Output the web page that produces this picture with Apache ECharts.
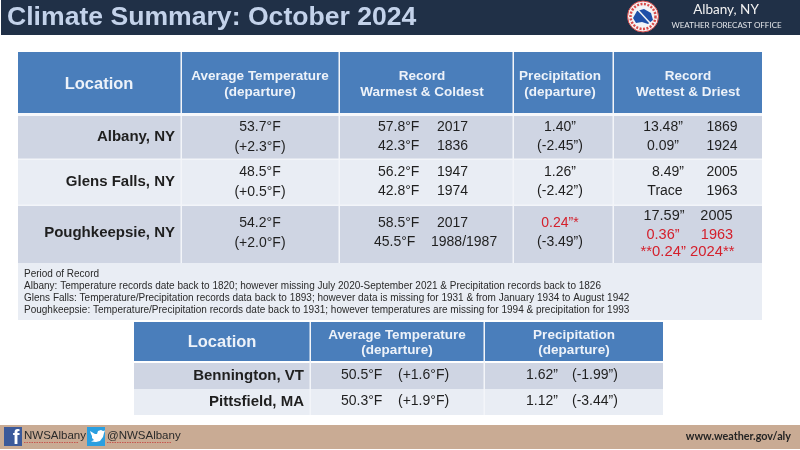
<!DOCTYPE html>
<html><head><meta charset="utf-8">
<style>html,body{margin:0;padding:0;background:#fff}#c{width:800px;height:450px}</style>
<script src="https://cdn.jsdelivr.net/npm/echarts@6/dist/echarts.min.js"></script></head>
<body><div id="c"></div>
<script>
const titleText = 'Climate Summary: October 2024';
const officeName = 'Albany, NY';
const officeSub = 'WEATHER FORECAST OFFICE';
const mainHeaders = ['Location','Average Temperature\n(departure)','Record\nWarmest & Coldest','Precipitation\n(departure)','Record\nWettest & Driest'];
const locations = ['Albany, NY','Glens Falls, NY','Poughkeepsie, NY'];
const avgTemps = ['53.7°F\n(+2.3°F)','48.5°F\n(+0.5°F)','54.2°F\n(+2.0°F)'];
const warmest = [['57.8°F','2017'],['56.2°F','1947'],['58.5°F','2017']];
const coldest = [['42.3°F','1836'],['42.8°F','1974'],['45.5°F','1988/1987']];
const precips = [['1.40”','(-2.45”)'],['1.26”','(-2.42”)'],['0.24”*','(-3.49”)']];
const wettest = [['13.48”','1869'],['8.49”','2005'],['17.59”','2005']];
const driest = [['0.09”','1924'],['Trace','1963'],['0.36”','1963']];
const recordNote = '**0.24” 2024**';
const notes = ['Period of Record',
 'Albany: Temperature records date back to 1820; however missing July 2020-September 2021 & Precipitation records back to 1826',
 'Glens Falls: Temperature/Precipitation records data back to 1893; however data is missing for 1931 & from January 1934 to August 1942',
 'Poughkeepsie: Temperature/Precipitation records date back to 1931; however temperatures are missing for 1994 & precipitation for 1993'];
const subHeaders = ['Location','Average Temperature\n(departure)','Precipitation\n(departure)'];
const subLocations = ['Bennington, VT','Pittsfield, MA'];
const subTemps = [['50.5°F','(+1.6°F)'],['50.3°F','(+1.9°F)']];
const subPrecips = [['1.62”','(-1.99”)'],['1.12”','(-3.44”)']];
const footerLeft = ['NWSAlbany','@NWSAlbany'];
const footerRight = 'www.weather.gov/aly';

const F='"Liberation Sans",Arial,sans-serif', INK='#1f1f1f', RED='#d4202c';
const HEAD='#4a7ebb', DARK='#203047', BAND='#cfd5e3', LIGHT='#e9edf4', RULE='#f3f5f9', HTXT='#edf2f9';
const g=[];
const rect=(x,y,w,h,fill)=>g.push({type:'rect',silent:true,shape:{x,y,width:w,height:h},style:{fill}});
const text=(x,y,t,o={})=>g.push({type:'text',silent:true,x,y,style:Object.assign({text:t,fill:INK,font:`${o.bold?'bold ':''}${o.size||14}px ${o.family||F}`,textAlign:o.align||'center',textVerticalAlign:'middle',lineHeight:o.lh||17},o.extra||{})});

// banner
rect(0,0,800,35,DARK); rect(0,0,1,35,'#fff');
text(7,18,titleText,{bold:true,size:26.6,align:'left',extra:{fill:'#c3d2ea'}});
g.push({type:'circle',silent:true,shape:{cx:643,cy:16.5,r:15.5},style:{fill:'#f6f2f2',stroke:'#d84a4a',lineWidth:1}});
g.push({type:'circle',silent:true,shape:{cx:643,cy:16.5,r:12.5},style:{fill:'none',stroke:'#d84a4a',lineWidth:2.5,lineDash:[2,1.5]}});
g.push({type:'circle',silent:true,shape:{cx:643,cy:16.5,r:10.5},style:{fill:'#f2f4f8'}});
g.push({type:'polygon',silent:true,shape:{points:[[633,18],[637,11],[644,9],[651,13],[653,20],[648,24],[642,22],[636,23]]},style:{fill:'#1f4fa8'}});
g.push({type:'line',silent:true,shape:{x1:638,y1:10,x2:650,y2:23},style:{stroke:'#f4f4f4',lineWidth:1.5}});
text(726,10,officeName,{size:13.5,family:'Lato,sans-serif',extra:{fill:'#f2f2f2'}});
text(726.5,25,officeSub,{size:8,family:'Lato,sans-serif',extra:{fill:'#e4e6ea'}});

// main table
const Yr=[116,159,205,263];
const headC=[99,260,422,560,688];
rect(18,52,744,61,HEAD);
mainHeaders.forEach((h,i)=>text(headC[i],84,h,{bold:true,size:i==0?16.5:13.5,lh:16,extra:{fill:HTXT}}));
locations.forEach((l,r)=>rect(18,Yr[r],744,Yr[r+1]-Yr[r],r==1?LIGHT:BAND));
rect(18,263,744,57,LIGHT);
[181,339,513,613].forEach(x=>rect(x-0.5,52,1.5,211,RULE));
rect(18,113,744,3,'#f7f8fb');
[159,205].forEach(y=>rect(18,y-0.5,744,1.5,RULE));
const rowC=[137,182,233];
const S=14;
locations.forEach((l,r)=>{
  const c=rowC[r];
  text(175,c,l,{bold:true,size:15,align:'right'});
  text(260,c,avgTemps[r],{size:S,lh:19.5});
  text(378,c-9.5,warmest[r][0],{size:S,align:'left'});
  text(437,c-9.5,warmest[r][1],{size:S,align:'left'});
  text(r==2?374:378,c+9.5,coldest[r][0],{size:S,align:'left'});
  text(r==2?431:437,c+9.5,coldest[r][1],{size:S,align:'left'});
  text(560,c-9.5,precips[r][0],{size:S,extra:{fill:r==2?RED:INK}});
  text(560,c+9.5,precips[r][1],{size:S});
  if(r<2){
    text(r==0?663:668,c-9.5,wettest[r][0],{size:S});
    text(722,c-9.5,wettest[r][1],{size:S});
    text(r==0?663:665,c+9.5,driest[r][0],{size:S});
    text(722,c+9.5,driest[r][1],{size:S});
  } else {
    text(664,216,wettest[r][0],{size:14.5});
    text(716.5,216,wettest[r][1],{size:14.5});
    text(663,235,driest[r][0],{size:14.5,extra:{fill:RED}});
    text(717,235,driest[r][1],{size:14.5,extra:{fill:RED}});
  }
});
text(687.5,252,recordNote,{size:14.8,extra:{fill:RED}});
notes.forEach((n,i)=>text(24,274+i*12.2,n,{size:10,align:'left',extra:{fill:'#2a2a2a'}}));

// second table
const headC2=[222,397,574];
rect(134,322,529,39,HEAD);
subHeaders.forEach((h,i)=>text(headC2[i],i==0?342:343,h,{bold:true,size:i==0?16.5:13.5,lh:15.5,extra:{fill:HTXT}}));
rect(134,363,529,26,BAND); rect(134,389,529,26,LIGHT);
[310,484].forEach(x=>rect(x-0.5,322,1.5,93,RULE));
subLocations.forEach((l,r)=>{
  const c=375.5+r*26;
  text(304,c,l,{bold:true,size:15,align:'right'});
  text(341,c,subTemps[r][0],{size:S,align:'left'});
  text(398,c,subTemps[r][1],{size:S,align:'left'});
  text(526,c,subPrecips[r][0],{size:S,align:'left'});
  text(572,c,subPrecips[r][1],{size:S,align:'left'});
});

// footer
rect(0,425,800,24,'#c9ab94');
rect(4,427,18,19,'#3c5a9a');
text(16,438,'f',{bold:true,size:20,extra:{fill:'#fff'}});
rect(87,427,18,19,'#2a9fe0');
g.push({type:'polygon',silent:true,shape:{points:[[90,431],[95,434],[97,434],[98,431],[101,430],[103,431],[105,430.5],[104,433],[103,437],[100,441],[96,442],[91,441.500],[94,440],[92,438],[92,436],[91,434]]},style:{fill:'#fff'}});
text(24,436,footerLeft[0],{size:11.5,align:'left',extra:{fill:'#2a2a2a'}});
text(107,436,footerLeft[1],{size:11.5,align:'left',extra:{fill:'#2a2a2a'}});
[[24,78],[107,171]].forEach(([a,b])=>g.push({type:'line',silent:true,shape:{x1:a,y1:442.5,x2:b,y2:442.5},style:{stroke:'#c8403c',lineWidth:0.8,lineDash:[1.5,1]}}));
text(791,437,footerRight,{size:10.8,bold:true,align:'right',family:'Lato,sans-serif',extra:{fill:'#242424'}});

echarts.init(document.getElementById('c'),null,{renderer:'canvas'}).setOption({animation:false,graphic:{elements:g}});
</script></body></html>
